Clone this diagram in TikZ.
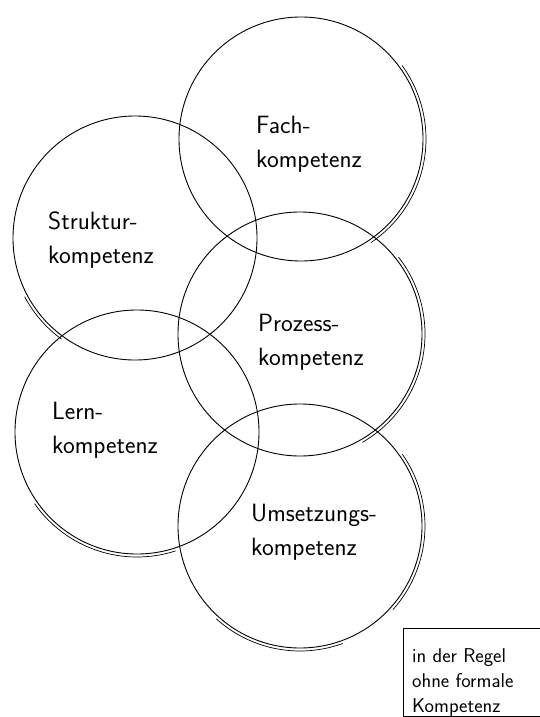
\documentclass[tikz,border=0pt]{standalone}
\usepackage{tikz}
\usetikzlibrary{positioning}

\tikzset{
  ring/.style={circle, draw, line width=0.9pt, minimum size=244pt, inner sep=0pt},
  retrace/.style={line width=0.7pt},
  label/.style={font=\sffamily\fontsize{25}{34}\selectfont, align=left, anchor=west, inner sep=0pt},
  note/.style={draw, line width=0.8pt, anchor=north west, minimum width=150pt, minimum height=88pt, inner sep=0pt},
  notetext/.style={font=\sffamily\fontsize{20}{25}\selectfont, align=left, anchor=north west, inner sep=0pt}
}

\begin{document}
\begin{tikzpicture}[x=1pt,y=-1pt]
  \useasboundingbox (0,0) rectangle (539,717);

  % the five circles
  \node[ring] (fach) at (301,139) {};
  \node[ring] (struktur) at (135,238) {};
  \node[ring] (prozess) at (300,334) {};
  \node[ring] (lern) at (137,432) {};
  \node[ring] (umsetzung) at (300,526) {};

  % pen retraced at a few places
  \draw[retrace] (fach.center) ++(56:125) arc[start angle=56, end angle=-36, radius=125];
  \draw[retrace] (prozess.center) ++(60:125) arc[start angle=60, end angle=-38, radius=125];
  \draw[retrace] (umsetzung.center) ++(42:125) arc[start angle=42, end angle=-35, radius=125];
  \draw[retrace] (umsetzung.center) ++(132:125) arc[start angle=132, end angle=70, radius=125];
  \draw[retrace] (struktur.center) ++(152:125) arc[start angle=152, end angle=126, radius=125];
  \draw[retrace] (lern.center) ++(145:125) arc[start angle=145, end angle=72, radius=125];

  % labels
  \node[label] (fachtxt) at (256,144) {Fach-\\kompetenz};
  \node[label] (strukturtxt) at (48,240) {Struktur-\\kompetenz};
  \node[label] (prozesstxt) at (258,342) {Prozess-\\kompetenz};
  \node[label] (lerntxt) at (52,430) {Lern-\\kompetenz};
  \node[label] (umsetzungtxt) at (251,532) {Umsetzungs-\\kompetenz};

  % note box, cut by the page edge
  \node[note] (hinweis) at (403,628) {};
  \node[notetext] (hinweistxt) at ([shift={(9,20)}]hinweis.north west) {in der Regel\\ohne formale\\Kompetenz};
\end{tikzpicture}
\end{document}
